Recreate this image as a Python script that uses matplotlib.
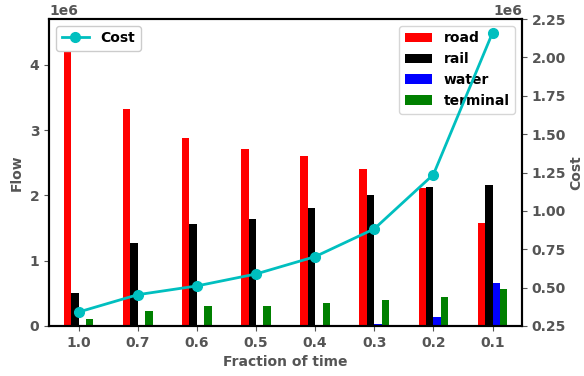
import numpy as np
import matplotlib
matplotlib.use("Agg")
import matplotlib.pyplot as plt

fractions = ['1.0', '0.7', '0.6', '0.5', '0.4', '0.3', '0.2', '0.1']
road = [4.48e6, 3.32e6, 2.88e6, 2.71e6, 2.61e6, 2.40e6, 2.11e6, 1.58e6]
rail = [0.505e6, 1.27e6, 1.56e6, 1.64e6, 1.81e6, 2.01e6, 2.13e6, 2.16e6]
water = [0, 0, 0, 0, 0, 0.03e6, 0.14e6, 0.66e6]
terminal = [0.105e6, 0.23e6, 0.31e6, 0.31e6, 0.35e6, 0.40e6, 0.44e6, 0.57e6]
cost = [0.341e6, 0.454e6, 0.511e6, 0.589e6, 0.702e6, 0.883e6, 1.237e6, 2.161e6]

plt.rcParams['font.weight'] = 'bold'
plt.rcParams['axes.labelweight'] = 'bold'
plt.rcParams['font.size'] = 10

grey = '#555555'
fig, ax1 = plt.subplots(figsize=(5.84, 3.76), dpi=100)
x = np.arange(len(fractions))
w = 0.125
ax1.bar(x - 1.5*w, road, w, color='red', label='road')
ax1.bar(x - 0.5*w, rail, w, color='black', label='rail')
ax1.bar(x + 0.5*w, water, w, color='blue', label='water')
ax1.bar(x + 1.5*w, terminal, w, color='green', label='terminal')
ax1.set_xticks(x)
ax1.set_xticklabels(fractions)
ax1.set_xlim(-0.5, 7.5)
ax1.set_xlabel('Fraction of time', color=grey)
ax1.set_ylabel('Flow', color=grey)
ax1.legend(loc='upper right')

ax2 = ax1.twinx()
ax2.plot(x, cost, color='c', marker='o', lw=2, markersize=7, label='Cost')
ax2.set_ylabel('Cost', color=grey, labelpad=2)
ax2.legend(loc='upper left', framealpha=1)

for ax in (ax1, ax2):
    ax.tick_params(colors=grey, labelcolor=grey)
    ax.yaxis.get_offset_text().set_color(grey)
    ax.yaxis.get_offset_text().set_weight('bold')
    for s in ax.spines.values():
        s.set_color('black')
        s.set_linewidth(1.5)

fig.subplots_adjust(left=0.084, right=0.894, top=0.95, bottom=0.133)
plt.savefig('out.png', dpi=100)
plt.close()
